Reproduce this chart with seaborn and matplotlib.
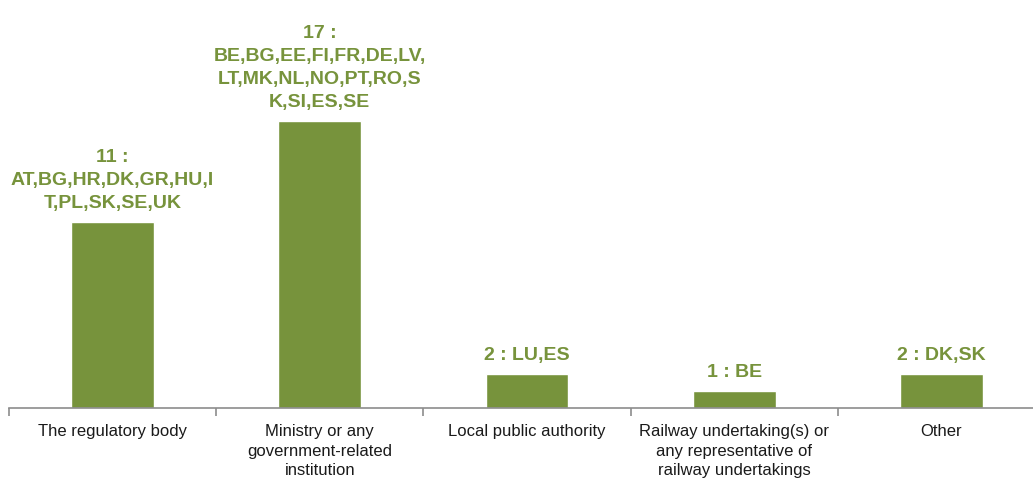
import matplotlib
matplotlib.use("Agg")
import matplotlib.pyplot as plt
from matplotlib import font_manager
import seaborn as sns
import pandas as pd
import numpy as np

categories = [
    "The regulatory body",
    "Ministry or any\ngovernment-related\ninstitution",
    "Local public authority",
    "Railway undertaking(s) or\nany representative of\nrailway undertakings",
    "Other",
]
counts = [11, 17, 2, 1, 2]
countries = [
    "AT,BG,HR,DK,GR,HU,I\nT,PL,SK,SE,UK",
    "BE,BG,EE,FI,FR,DE,LV,\nLT,MK,NL,NO,PT,RO,S\nK,SI,ES,SE",
    "LU,ES",
    "BE",
    "DK,SK",
]

GREEN = "#77933C"

available = {f.name for f in font_manager.fontManager.ttflist}
label_font = "Liberation Sans Narrow" if "Liberation Sans Narrow" in available else "Liberation Sans"

sns.set_theme(style="white")
plt.rcParams["font.family"] = ["Liberation Sans", "DejaVu Sans"]

df = pd.DataFrame({"category": categories, "count": counts})

W, H = 1033, 481
fig = plt.figure(figsize=(W / 100, H / 100), dpi=100)
unit_px = 16.9
ymax = 24
ax = fig.add_axes([9 / W, 72 / H, 1036 / W, ymax * unit_px / H])

sns.barplot(data=df, x="category", y="count", color=GREEN, saturation=1,
            width=0.4, ax=ax)

ax.set_ylim(0, ymax)
ax.set_xlim(-0.5, len(categories) - 0.5)
ax.set_xlabel("")
ax.set_ylabel("")
ax.set_yticks([])
for side in ("top", "right", "left"):
    ax.spines[side].set_visible(False)
ax.spines["bottom"].set_color("#8c8c8c")
ax.spines["bottom"].set_linewidth(1.2)

ax.set_xticks(range(len(categories)))
ax.set_xticklabels(categories, fontsize=12, color="#1a1a1a", linespacing=1.38)
ax.tick_params(axis="x", which="major", length=0, pad=11)
ax.set_xticks(np.arange(-0.5, len(categories), 1.0), minor=True)
ax.tick_params(axis="x", which="minor", length=6, width=1.2, color="#8c8c8c",
               bottom=True)

for i, (n, c) in enumerate(zip(counts, countries)):
    ax.annotate(f"{n} : {c}" if n < 10 else f"{n} :\n{c}",
                xy=(i, n), xytext=(0, 8), textcoords="offset points",
                ha="center", va="bottom", fontsize=14, fontweight="bold",
                color=GREEN, family=[label_font, "DejaVu Sans"],
                linespacing=1.45)

fig.savefig("out.png", dpi=100)
